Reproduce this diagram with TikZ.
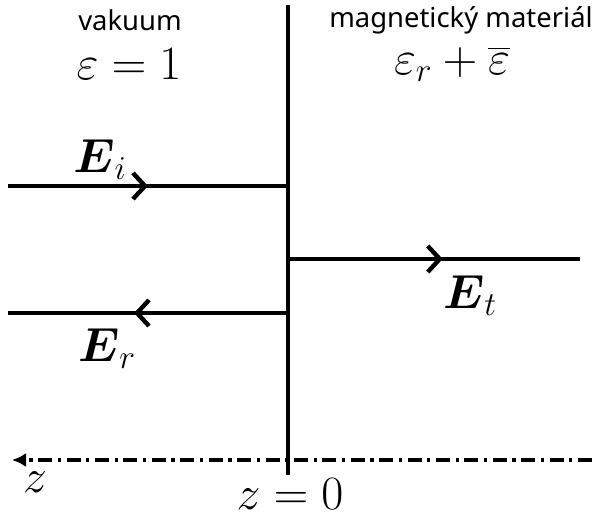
\RequirePackage{fix-cm}
\documentclass[tikz,border=0pt]{standalone}
\usepackage{fontspec}
\usepackage{amsmath}
\usetikzlibrary{arrows.meta, decorations.markings}
\newfontfamily\labelfont{Noto Sans}

\begin{document}
\begin{tikzpicture}[x=0.025cm, y=-0.025cm,
  field/.style={line width=1.15mm},
  mid/.style={postaction={decorate}, decoration={markings,
              mark=at position #1 with {\arrow{Straight Barb[length=3mm, width=6.5mm, line width=1.1mm]}}}},
  axis/.style={line width=0.9mm, dash pattern=on 3.5mm off 1.4mm on 0.8mm off 1.4mm,
               -{Latex[length=3.5mm, width=3.5mm]}},
  medium/.style={font=\labelfont\fontsize{19.5}{22}\selectfont, inner sep=0pt},
  big/.style={font=\fontsize{34}{40}\selectfont, inner sep=0pt}
]
\useasboundingbox (0,0) rectangle (592,519);

% boundary and axis
\coordinate (top) at (288,5);
\coordinate (bot) at (288,475);
\coordinate (axR) at (592,460);
\coordinate (axL) at (12,460);
\draw[axis] (axR) -- (axL);
\draw[line width=1mm] (top) -- (bot);

% waves
\coordinate (iL) at (8,186);   \coordinate (iR) at (288,186);
\coordinate (rL) at (8,313);   \coordinate (rR) at (288,313);
\coordinate (tL) at (288,259); \coordinate (tR) at (580,259);
\draw[field, mid=0.5]  (iL) -- (iR);
\draw[field, mid=0.55] (rR) -- (rL);
\draw[field, mid=0.53] (tL) -- (tR);

% labels
\node[medium] (vac)  at (130,20) {vakuum};
\node[big]    (epsv) at (129,64) {$\varepsilon = 1$};
\node[medium] (mag)  at (461,20) {magnetický materiál};
\node[big]    (epsm) at (452,64) {$\varepsilon_r + \overline{\varepsilon}$};
\node[big]    (Ei)   at (100,160) {$\boldsymbol{E}_i$};
\node[big]    (Er)   at (107,349) {$\boldsymbol{E}_r$};
\node[big]    (Et)   at (470,296) {$\boldsymbol{E}_t$};
\node[big]    (zax)  at (35,482)  {$z$};
\node[big]    (z0)   at (290,494) {$z = 0$};
\end{tikzpicture}
\end{document}
